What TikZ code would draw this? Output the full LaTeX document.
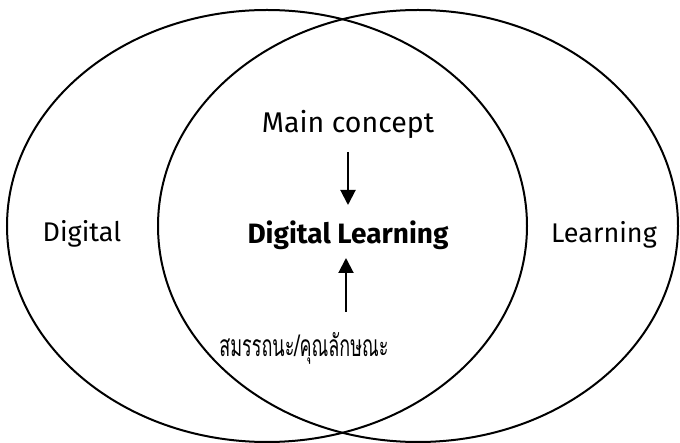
\documentclass[tikz,border=0pt]{standalone}
\usepackage{fontspec}
\setmainfont{Fira Sans}
\newfontfamily\thaifont[Script=Thai,FakeStretch=0.6]{Loma}
\usetikzlibrary{arrows.meta}
\begin{document}
\begin{tikzpicture}[x=1pt,y=-1pt,
  ring/.style={draw=black,line width=2pt},
  lbl/.style={anchor=base,inner sep=0pt,font=\fontsize{27}{32}\selectfont},
  arr/.style={line width=2pt,-{Triangle[width=15pt,length=15pt]}}]
\useasboundingbox (0,0) rectangle (680,443);
\draw[ring] (267,226) ellipse [x radius=260,y radius=216];
\draw[ring] (418,226) ellipse [x radius=260,y radius=216];
\node[lbl,font=\fontsize{28.5}{32}\selectfont] (mc) at (348,133) {Main concept};
\node[lbl,font=\fontsize{28}{32}\selectfont\fontseries{sb}\selectfont] (dl) at (348,244) {Digital Learning};
\node[lbl] (dg) at (82,242) {Digital};
\node[lbl] (ln) at (604,243) {Learning};
\node[lbl,font=\fontsize{30}{34}\selectfont\thaifont] (th) at (304,357) {สมรรถนะ/คุณลักษณะ};
\coordinate (a1s) at (348,152);
\coordinate (a1e) at (348,205);
\coordinate (a2s) at (346,312);
\coordinate (a2e) at (346,258);
\draw[arr] (a1s) -- (a1e);
\draw[arr] (a2s) -- (a2e);
\end{tikzpicture}
\end{document}
